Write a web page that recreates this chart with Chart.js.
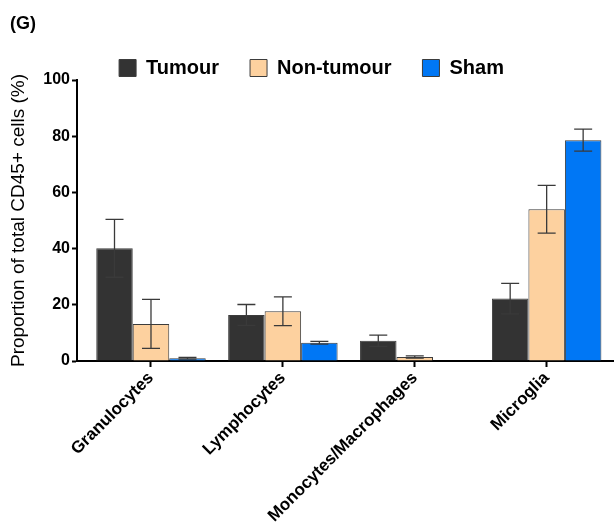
<!DOCTYPE html>
<html>
<head>
<meta charset="utf-8">
<script src="https://cdn.jsdelivr.net/npm/chart.js@4/dist/chart.umd.min.js"></script>
<style>
html,body{margin:0;padding:0;background:#fff;}
#wrap{width:615px;height:525px;position:relative;}
</style>
</head>
<body>
<div id="wrap"><canvas id="c" width="615" height="525"></canvas></div>
<script>
const categories = ['Granulocytes', 'Lymphocytes', 'Monocytes/Macrophages', 'Microglia'];
const seriesNames = ['Tumour', 'Non-tumour', 'Sham'];
const tumour = [40.1, 16.4, 7.2, 22.2];
const tumourErr = [10.3, 3.7, 2.0, 5.4];
const nonTumour = [13.2, 17.7, 1.4, 54.0];
const nonTumourErr = [8.7, 5.1, 0.4, 8.5];
const sham = [1.0, 6.5, 0.0, 78.6];
const shamErr = [0.3, 0.5, 0.0, 3.9];
const yTicks = [0, 20, 40, 60, 80, 100];

const FONT = '"Liberation Sans", Arial, sans-serif';
const colors = ['#333333', '#FDD19F', '#0077F5'];
const values = [tumour, nonTumour, sham];
const errors = [tumourErr, nonTumourErr, shamErr];

const errorBars = {
  id: 'errorBars',
  afterDatasetsDraw(chart) {
    const ctx = chart.ctx;
    const yScale = chart.scales.y;
    ctx.save();
    ctx.strokeStyle = '#3a3a3a';
    ctx.lineWidth = 1.3;
    chart.data.datasets.forEach((ds, di) => {
      const meta = chart.getDatasetMeta(di);
      meta.data.forEach((bar, i) => {
        const v = values[di][i], e = errors[di][i];
        if (!e) return;
        const x = bar.x;
        const yt = yScale.getPixelForValue(v + e);
        const yb = yScale.getPixelForValue(Math.max(0, v - e));
        const hw = 9;
        ctx.beginPath();
        ctx.moveTo(x, yt); ctx.lineTo(x, yb);
        ctx.moveTo(x - hw, yt); ctx.lineTo(x + hw, yt);
        ctx.moveTo(x - hw, yb); ctx.lineTo(x + hw, yb);
        ctx.stroke();
      });
    });
    ctx.restore();
  }
};

const legendTrim = {
  id: 'legendTrim',
  afterInit(chart) {
    const lg = chart.legend;
    if (!lg) return;
    const orig = lg.fit.bind(lg);
    lg.fit = function () { orig(); this.height -= 8; };
  }
};

new Chart(document.getElementById('c'), {
  type: 'bar',
  data: {
    datasets: seriesNames.map((name, di) => ({
      label: name,
      data: values[di].map((v, i) => ({x: i, y: v})),
      backgroundColor: colors[di],
      borderColor: '#3c3c3c',
      borderWidth: 1,
      categoryPercentage: 0.83,
      barPercentage: 1.0
    }))
  },
  options: {
    responsive: false,
    animation: false,
    devicePixelRatio: 1,
    layout: {padding: {left: 10, right: 2, top: 0, bottom: 0}},
    plugins: {
      title: {
        display: true,
        text: '(G)',
        align: 'start',
        color: '#000',
        font: {family: FONT, size: 18, weight: 'bold'},
        padding: {top: 13, bottom: -7.6}
      },
      legend: {
        display: true,
        position: 'top',
        labels: {
          color: '#000',
          font: {family: FONT, size: 20, weight: 'bold'},
          boxWidth: 17,
          boxHeight: 17,
          padding: 31
        }
      },
      tooltip: {enabled: false}
    },
    scales: {
      x: {
        type: 'linear',
        min: -0.561,
        max: 3.503,
        offset: false,
        afterBuildTicks: (s) => { s.ticks = categories.map((c, i) => ({value: i})); },
        afterFit: (s) => { s.height = 164; },
        border: {display: true, color: '#000', width: 2},
        grid: {display: true, offset: false, drawOnChartArea: false, drawTicks: true, tickLength: 6, tickColor: '#000', tickWidth: 2},
        ticks: {
          autoSkip: false,
          minRotation: 45,
          maxRotation: 45,
          padding: 1,
          color: '#000',
          font: {family: FONT, size: 17, weight: 'bold'},
          callback: (v) => categories[v]
        }
      },
      y: {
        type: 'linear',
        min: 0,
        max: 100,
        afterBuildTicks: (s) => { s.ticks = yTicks.map(v => ({value: v})); },
        afterFit: (s) => { s.width = 67; },
        border: {display: true, color: '#000', width: 2},
        grid: {display: true, drawOnChartArea: false, drawTicks: true, tickLength: 5, tickColor: '#000', tickWidth: 2},
        title: {
          display: true,
          text: 'Proportion of total CD45+ cells (%)',
          color: '#000',
          font: {family: FONT, size: 19, weight: 'normal'},
          padding: {top: -3, bottom: 0}
        },
        ticks: {
          color: '#000',
          padding: 2,
          font: {family: FONT, size: 16, weight: 'bold'}
        }
      }
    }
  },
  plugins: [errorBars, legendTrim]
});
</script>
</body>
</html>
